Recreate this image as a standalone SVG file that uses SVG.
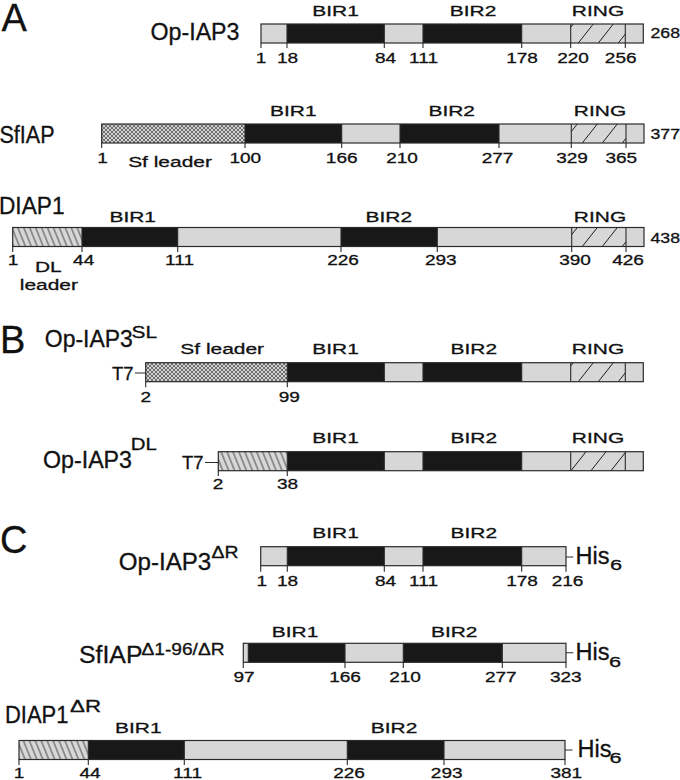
<svg xmlns="http://www.w3.org/2000/svg" width="680" height="780" viewBox="0 0 680 780">
<style>
.g{fill:#d7d7d7}
.k{fill:#181818}
.o{fill:none;stroke:#2b2b2b;stroke-width:1.2}
.t{fill:none;stroke:#2b2b2b;stroke-width:1.1}
.h{fill:none;stroke:#1e1e1e;stroke-width:1}
text{font-family:"Liberation Sans",Arial,Helvetica,sans-serif;fill:#111;stroke:#111;stroke-width:0.3}
.nm{font-size:23px}
.lb{font-size:15.5px;text-anchor:middle}
.nu{font-size:15px;text-anchor:middle}
.ns{font-size:15px}
.sp{font-size:16px}
.big{font-size:38px}
.t7{font-size:18.5px}
</style>
<defs>
<pattern id="xh" width="4" height="4" patternUnits="userSpaceOnUse">
<rect width="4" height="4" fill="#d2d2d2"/>
<path d="M0,0 L4,4 M4,0 L0,4" stroke="#2a2a2a" stroke-width="0.6"/>
</pattern>
<pattern id="dl" width="5.5" height="10" patternUnits="userSpaceOnUse" patternTransform="rotate(-22)">
<rect width="5.5" height="10" fill="#d7d7d7"/>
<line x1="2.75" y1="0" x2="2.75" y2="10" stroke="#222" stroke-width="0.8"/>
</pattern>
</defs>

<g id="panel-letters">
<text class="big" x="1.5" y="31">A</text>
<text class="big" x="0" y="353">B</text>
<text class="big" x="0" y="553">C</text>
</g>

<g id="op-iap3">
<text class="nm" x="150.5" y="40" textLength="89" lengthAdjust="spacingAndGlyphs">Op-IAP3</text>
<rect class="g" x="261" y="24" width="382.3" height="19"/>
<rect class="k" x="287" y="24" width="97.3" height="19"/>
<rect class="k" x="423" y="24" width="98.7" height="19"/>
<path class="h" d="M570.7,27.3 L573.3,24 M578.3,43 L593.3,24 M598.3,43 L613.3,24 M618.3,43 L625.3,34.1"/>
<rect class="o" x="261" y="24" width="382.3" height="19"/>
<path class="t" d="M261,43 V48 M287,24 V48 M384.3,24 V48 M423,24 V48 M521.7,24 V48 M570.7,24 V48 M625.3,24 V48"/>
<text class="lb" transform="translate(335.5 16) scale(1.35 1)">BIR1</text>
<text class="lb" transform="translate(473 16) scale(1.35 1)">BIR2</text>
<text class="lb" transform="translate(598 16) scale(1.35 1)">RING</text>
<text class="nu" transform="translate(261 63) scale(1.27 1)">1</text>
<text class="nu" transform="translate(287.5 63) scale(1.27 1)">18</text>
<text class="nu" transform="translate(385.5 63) scale(1.27 1)">84</text>
<text class="nu" transform="translate(423.5 63) scale(1.27 1)">111</text>
<text class="nu" transform="translate(522 63) scale(1.27 1)">178</text>
<text class="nu" transform="translate(573 63) scale(1.27 1)">220</text>
<text class="nu" transform="translate(620.7 63) scale(1.27 1)">256</text>
<text class="ns" transform="translate(650.5 38.3) scale(1.18 1)">268</text>
</g>

<g id="sfiap">
<text class="nm" x="-0.5" y="142.5" textLength="55" lengthAdjust="spacingAndGlyphs">SfIAP</text>
<rect class="g" x="101.7" y="124" width="542.3" height="19"/>
<rect fill="url(#xh)" x="101.7" y="124" width="143.3" height="19"/>
<rect class="k" x="245" y="124" width="96.7" height="19"/>
<rect class="k" x="400" y="124" width="99" height="19"/>
<path class="h" d="M571.3,131.6 L577.3,124 M582.3,143 L597.3,124 M602.3,143 L617.3,124 M622.3,143 L626,138.3"/>
<rect class="o" x="101.7" y="124" width="542.3" height="19"/>
<path class="t" d="M101.7,143 V148 M245,124 V148 M341.7,124 V148 M400,124 V148 M499,124 V148 M571.3,124 V148 M626,124 V148"/>
<text class="lb" transform="translate(293.3 116) scale(1.35 1)">BIR1</text>
<text class="lb" transform="translate(451.7 116) scale(1.35 1)">BIR2</text>
<text class="lb" transform="translate(600 116) scale(1.35 1)">RING</text>
<text class="lb" transform="translate(170 166.7) scale(1.35 1)">Sf leader</text>
<text class="nu" transform="translate(102.5 163) scale(1.27 1)">1</text>
<text class="nu" transform="translate(245.3 163) scale(1.27 1)">100</text>
<text class="nu" transform="translate(341.7 163) scale(1.27 1)">166</text>
<text class="nu" transform="translate(402 163) scale(1.27 1)">210</text>
<text class="nu" transform="translate(497.5 163) scale(1.27 1)">277</text>
<text class="nu" transform="translate(572 163) scale(1.27 1)">329</text>
<text class="nu" transform="translate(621.3 163) scale(1.27 1)">365</text>
<text class="ns" transform="translate(650.5 139) scale(1.18 1)">377</text>
</g>

<g id="diap1">
<text class="nm" x="-1" y="214" textLength="65.5" lengthAdjust="spacingAndGlyphs">DIAP1</text>
<rect class="g" x="12.7" y="227.5" width="631.3" height="19"/>
<rect fill="url(#dl)" x="12.7" y="227.5" width="69.3" height="19"/>
<rect class="k" x="82" y="227.5" width="95.7" height="19"/>
<rect class="k" x="341" y="227.5" width="96.3" height="19"/>
<path class="h" d="M571.7,234.6 L577.3,227.5 M582.3,246.5 L597.3,227.5 M602.3,246.5 L617.3,227.5 M622.3,246.5 L626,241.8"/>
<rect class="o" x="12.7" y="227.5" width="631.3" height="19"/>
<path class="t" d="M12.7,246.5 V252 M82,227.5 V252 M177.7,227.5 V252 M341,227.5 V252 M437.3,227.5 V252 M571.7,227.5 V252 M626,227.5 V252"/>
<text class="lb" transform="translate(132.7 221.7) scale(1.35 1)">BIR1</text>
<text class="lb" transform="translate(388.8 221.7) scale(1.35 1)">BIR2</text>
<text class="lb" transform="translate(600 221.7) scale(1.35 1)">RING</text>
<text class="lb" transform="translate(48.3 271.7) scale(1.35 1)">DL</text>
<text class="lb" transform="translate(48.8 290) scale(1.35 1)">leader</text>
<text class="nu" transform="translate(13 265) scale(1.27 1)">1</text>
<text class="nu" transform="translate(83.7 265) scale(1.27 1)">44</text>
<text class="nu" transform="translate(179.5 265) scale(1.27 1)">111</text>
<text class="nu" transform="translate(343 265) scale(1.27 1)">226</text>
<text class="nu" transform="translate(440.8 265) scale(1.27 1)">293</text>
<text class="nu" transform="translate(575 265) scale(1.27 1)">390</text>
<text class="nu" transform="translate(628 265) scale(1.27 1)">426</text>
<text class="ns" transform="translate(650.5 243) scale(1.18 1)">438</text>
</g>

<g id="op-iap3-sl">
<text class="nm" x="44.8" y="346.7" textLength="88" lengthAdjust="spacingAndGlyphs">Op-IAP3</text>
<text class="sp" x="131.5" y="338" textLength="25.5" lengthAdjust="spacingAndGlyphs">SL</text>
<text class="t7" x="112" y="380">T7</text>
<rect class="g" x="145.7" y="362.7" width="497.6" height="19"/>
<rect fill="url(#xh)" x="145.7" y="362.7" width="141.6" height="19"/>
<rect class="k" x="287.3" y="362.7" width="97" height="19"/>
<rect class="k" x="423" y="362.7" width="98.7" height="19"/>
<path class="h" d="M570.7,366 L573.3,362.7 M578.3,381.7 L593.3,362.7 M598.3,381.7 L613.3,362.7 M618.3,381.7 L625.3,372.8"/>
<rect class="o" x="145.7" y="362.7" width="497.6" height="19"/>
<path class="t" d="M145.7,381.7 V387.3 M287.3,362.7 V387.3 M384.3,362.7 V381.7 M423,362.7 V381.7 M521.7,362.7 V381.7 M570.7,362.7 V381.7 M625.3,362.7 V381.7"/>
<text class="lb" transform="translate(222.2 354.3) scale(1.35 1)">Sf leader</text>
<text class="lb" transform="translate(335.5 354.3) scale(1.35 1)">BIR1</text>
<text class="lb" transform="translate(473.8 354.3) scale(1.35 1)">BIR2</text>
<text class="lb" transform="translate(598 354.3) scale(1.35 1)">RING</text>
<text class="nu" transform="translate(145.8 401.7) scale(1.27 1)">2</text>
<text class="nu" transform="translate(289.3 401.7) scale(1.27 1)">99</text>
</g>

<g id="op-iap3-dl">
<text class="nm" x="43" y="468" textLength="89" lengthAdjust="spacingAndGlyphs">Op-IAP3</text>
<text class="sp" x="130.8" y="450" textLength="26" lengthAdjust="spacingAndGlyphs">DL</text>
<text class="t7" x="182" y="469">T7</text>
<rect class="g" x="218.3" y="451.7" width="425" height="19"/>
<rect fill="url(#dl)" x="218.3" y="451.7" width="69" height="19"/>
<rect class="k" x="287.3" y="451.7" width="97" height="19"/>
<rect class="k" x="423" y="451.7" width="98.7" height="19"/>
<path class="h" d="M571,470.7 L586,451.7 M591,470.7 L606,451.7 M611,470.7 L625.3,452.6"/>
<rect class="o" x="218.3" y="451.7" width="425" height="19"/>
<path class="t" d="M218.3,470.7 V476 M287.3,451.7 V476 M384.3,451.7 V470.7 M423,451.7 V470.7 M521.7,451.7 V470.7 M570.7,451.7 V470.7 M625.3,451.7 V470.7"/>
<text class="lb" transform="translate(335.5 443.3) scale(1.35 1)">BIR1</text>
<text class="lb" transform="translate(473.8 443.3) scale(1.35 1)">BIR2</text>
<text class="lb" transform="translate(598 443.3) scale(1.35 1)">RING</text>
<text class="nu" transform="translate(218 489.3) scale(1.27 1)">2</text>
<text class="nu" transform="translate(287.5 489.3) scale(1.27 1)">38</text>
</g>

<g id="op-iap3-dr">
<text class="nm" x="118.8" y="570" textLength="92.5" lengthAdjust="spacingAndGlyphs">Op-IAP3</text>
<text class="sp" x="211.5" y="558.3" textLength="27" lengthAdjust="spacingAndGlyphs">ΔR</text>
<rect class="g" x="260.7" y="546.7" width="305.3" height="19"/>
<rect class="k" x="287.3" y="546.7" width="97" height="19"/>
<rect class="k" x="423" y="546.7" width="98.7" height="19"/>
<rect class="o" x="260.7" y="546.7" width="305.3" height="19"/>
<path class="t" d="M260.7,565.7 V571.7 M287.3,546.7 V571.7 M384.3,546.7 V571.7 M423,546.7 V571.7 M521.7,546.7 V571.7 M566,565.7 V571.7"/>
<text class="lb" transform="translate(335.5 538.3) scale(1.35 1)">BIR1</text>
<text class="lb" transform="translate(473.8 538.3) scale(1.35 1)">BIR2</text>
<text class="nm" x="575.6" y="564" textLength="34" lengthAdjust="spacingAndGlyphs">His</text>
<text class="ns" transform="translate(610 570) scale(1.45 1)">6</text>
<text class="nu" transform="translate(261.7 586) scale(1.27 1)">1</text>
<text class="nu" transform="translate(287.5 586) scale(1.27 1)">18</text>
<text class="nu" transform="translate(385.5 586) scale(1.27 1)">84</text>
<text class="nu" transform="translate(423.5 586) scale(1.27 1)">111</text>
<text class="nu" transform="translate(522 586) scale(1.27 1)">178</text>
<text class="nu" transform="translate(567.5 586) scale(1.27 1)">216</text>
</g>

<g id="sfiap-d196-dr">
<text class="nm" x="79" y="663.3" textLength="63.5" lengthAdjust="spacingAndGlyphs">SfIAP</text>
<text class="sp" x="141.5" y="655" textLength="83" lengthAdjust="spacingAndGlyphs">Δ1-96/ΔR</text>
<rect class="g" x="243.3" y="643.3" width="322.7" height="19"/>
<rect class="k" x="248.3" y="643.3" width="96.7" height="19"/>
<rect class="k" x="403.3" y="643.3" width="99" height="19"/>
<rect class="o" x="243.3" y="643.3" width="322.7" height="19"/>
<path class="t" d="M243.3,662.3 V668 M248.3,643.3 V662.3 M345,643.3 V668 M403.3,643.3 V668 M502.3,643.3 V668 M566,662.3 V668"/>
<text class="lb" transform="translate(295 636.7) scale(1.35 1)">BIR1</text>
<text class="lb" transform="translate(454.2 636.7) scale(1.35 1)">BIR2</text>
<text class="nm" x="575.6" y="660" textLength="34" lengthAdjust="spacingAndGlyphs">His</text>
<text class="ns" transform="translate(609 666.7) scale(1.45 1)">6</text>
<text class="nu" transform="translate(244 682.3) scale(1.27 1)">97</text>
<text class="nu" transform="translate(345 682.3) scale(1.27 1)">166</text>
<text class="nu" transform="translate(405 682.3) scale(1.27 1)">210</text>
<text class="nu" transform="translate(500.8 682.3) scale(1.27 1)">277</text>
<text class="nu" transform="translate(565.8 682.3) scale(1.27 1)">323</text>
</g>

<g id="diap1-dr">
<text class="nm" x="5" y="723.3" textLength="63.5" lengthAdjust="spacingAndGlyphs">DIAP1</text>
<text class="sp" x="70" y="711.7" textLength="31" lengthAdjust="spacingAndGlyphs">ΔR</text>
<rect class="g" x="19" y="740.5" width="546" height="19"/>
<rect fill="url(#dl)" x="19" y="740.5" width="69.3" height="19"/>
<rect class="k" x="88.3" y="740.5" width="96" height="19"/>
<rect class="k" x="347.3" y="740.5" width="96.7" height="19"/>
<rect class="o" x="19" y="740.5" width="546" height="19"/>
<path class="t" d="M19,759.5 V765 M88.3,740.5 V765 M184.3,740.5 V765 M347.3,740.5 V765 M444,740.5 V765 M565,759.5 V765"/>
<text class="lb" transform="translate(138.3 733) scale(1.35 1)">BIR1</text>
<text class="lb" transform="translate(394 733) scale(1.35 1)">BIR2</text>
<text class="nm" x="577.6" y="756.7" textLength="34" lengthAdjust="spacingAndGlyphs">His</text>
<text class="ns" transform="translate(609.5 763) scale(1.45 1)">6</text>
<text class="nu" transform="translate(19 778) scale(1.27 1)">1</text>
<text class="nu" transform="translate(90 778) scale(1.27 1)">44</text>
<text class="nu" transform="translate(187.5 778) scale(1.27 1)">111</text>
<text class="nu" transform="translate(349 778) scale(1.27 1)">226</text>
<text class="nu" transform="translate(446.7 778) scale(1.27 1)">293</text>
<text class="nu" transform="translate(566.3 778) scale(1.27 1)">381</text>
</g>

<g id="connectors">
<path class="t" d="M135,373 H145.7 M205,462.5 H218.3 M566,557 H573.3 M566,652.8 H573.3 M565,750 H572.5"/>
</g>
</svg>
